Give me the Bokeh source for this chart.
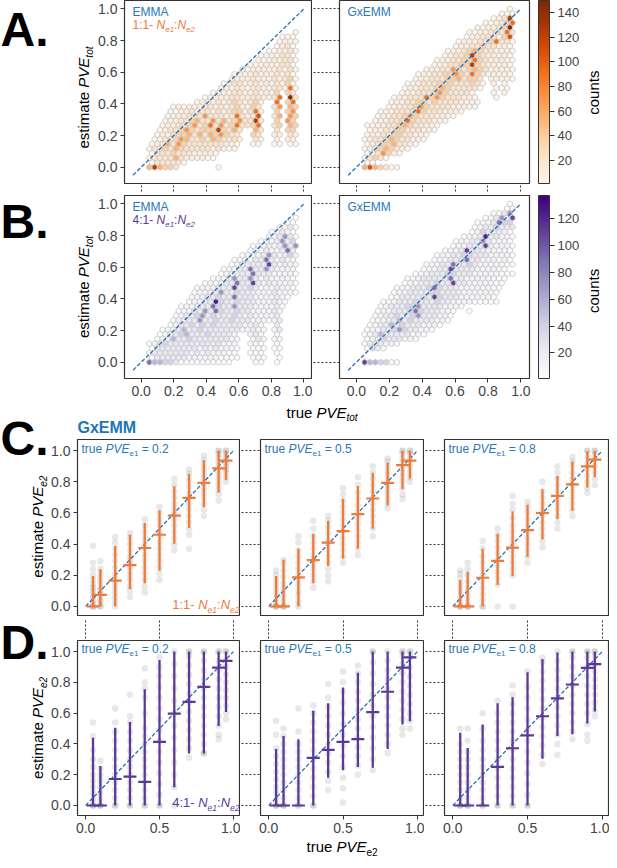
import math
from bokeh.plotting import figure
from bokeh.models import (ColumnDataSource, Label, FixedTicker, ColorBar, LinearColorMapper,
                          Range1d, NumeralTickFormatter, CustomJSTickFormatter, LinearAxis)
from bokeh.layouts import column, row
from bokeh.embed import file_html
from bokeh.resources import INLINE
from bokeh.palettes import Oranges256, Purples256
from bokeh.transform import linear_cmap

# ------------------------------------------------------------------ data
HEX_TICKS = [0.0, 0.2, 0.4, 0.6, 0.8, 1.0]
CD_XTICKS = [0.0, 0.5, 1.0]
CD_YTICKS = [0.0, 0.2, 0.4, 0.6, 0.8, 1.0]
CB_A_TICKS = [20, 40, 60, 80, 100, 120, 140]
CB_B_TICKS = [20, 40, 60, 80, 100, 120]
CB_A_RANGE = [1, 150]
CB_B_RANGE = [1, 137]
DIAG_HEX = [-0.05, 1.0]
DIAG_CD = [0.0, 1.0]

# hexbin lattice (bin centres): x0, column step, row step; odd rows shifted half a step
HEX_X0 = 0.05
HEX_DX = 0.0327
HEX_DY = 0.0294
# count level of each bin
LEVEL_COUNTS = {".": 2, "1": 10, "2": 22, "3": 38, "4": 55, "5": 72,
                "6": 90, "7": 108, "8": 125, "9": 145}

# rows from top (row 34, y=1.0) to bottom (row 0, y=0); "first column|cells"
HEX_A_EMMA = [
    "0|", "0|", "0|", "0|", "0|",
    "27|.",
    "25|...",
    "24|.11.",
    "24|.12.",
    "22|..112.",
    "21|..1122.",
    "20|..11122.",
    "19|..111122.",
    "17|..11111212.",
    "16|.1112111212.",
    "15|.11121112123.",
    "14|.122112111213.",
    "13|.1121122112216.",
    "12|.111221121113 32",
    "10|.11112211221126 92",
    "9|.111212321231  6 36",
    "4|.1.11122121231132  25 43",
    "4|..1121221212331261  3 35",
    "3|.11122252221262127  24 53",
    "3|.112234225242352282  3 53",
    "2|.112235236252362236  23 43",
    "2|.122353233383242  42  2 33",
    "1|.112334242435322  32  11 21",
    "1|.1223542232432221  21  1 11",
    "0|.124253222222211.  ..  .. ..",
    "0|.22324322222121..",
    "0|.22232221111.",
    "0|.2222421111..",
    "0|.22222.",
    "0|484332       .",
]

HEX_A_GXEMM = [
    "27|.",
    "25|...",
    "24|.128",
    "22|..1236",
    "21|..11239",
    "19|..1122262",
    "19|.11222137",
    "17|.111223622.",
    "17|.112232211.",
    "15|.11234322111.",
    "15|.12238321111.",
    "13|.112233632111..",
    "13|.1122338321111.",
    "11|.112253234321111.",
    "10|.1122335326321111.",
    "9|.112223342332 1111.",
    "8|.1122233322232. 1 .",
    "7|.1122234322222.  ...",
    "7|.112223532222.   . .",
    "5|.11222635322211.   .",
    "5|.112233232222111.",
    "4|.11223532222111..",
    "3|.11222363222111.",
    "2|.1122343222111.",
    "2|.112236322211.",
    "0|..11223432211.",
    "1|.11223322211.",
    "0|.1122332211.",
    "0|.1223432211.",
    "0|.12334221.",
    "0|.1234321.",
    "0|.12531.",
    "0|.232.",
    "0|..",
    "0|47432..",
]

HEX_B_EMMA = [
    "0|", "0|", "0|",
    "27|.",
    "26|..",
    "24|.12.",
    "23|.121.",
    "22|.1252.",
    "21|.112523",
    "19|.11212525",
    "19|.11211262",
    "17|.1112521231",
    "16|.11122621211",
    "15|.112222721211",
    "14|.1122622521111",
    "13|.1122262221111.",
    "12|.11252252121111.",
    "10|.1112262272121111.",
    "9|.11122272232111211.",
    "8|.111252232221112111.",
    "8|.11223226222111121.",
    "7|.11228322322211121.",
    "6|.112226322522211112.",
    "5|.1122526322322111121",
    "5|.1223523222321211112",
    "4|.11225223223222111.12",
    "4|.12232323222221121  2",
    "2|.1124223222222211211 12",
    "2|.12234222322221  121  1",
    "1|.124223222222211  121 11",
    "0|.1232222222222111  .1.  .",
    "0|.222222221212111.  ... ..",
    "0|.22222221212111..  ...  .",
    "0|.222222111111....  ...  .",
    "0|644332..........    ..  .",
]

HEX_B_GXEMM = [
    "27|.",
    "26|..",
    "24|.125",
    "22|.12527",
    "21|.112633",
    "20|.1223222",
    "20|.132221.",
    "18|.11282211.",
    "17|.112252111.",
    "16|.1122272111.",
    "15|.11272221111.",
    "13|.1122332221111.",
    "13|.1122262211111.",
    "11|.11226223211111..",
    "11|.11227222211111.",
    "9|.112223322211111...",
    "8|.1122222622111111..",
    "7|.1122232272211111..",
    "6|.11222363222111111..",
    "5|.112222332222111111.",
    "5|.122222273222111111.",
    "3|.1122232223221111.....",
    "3|.12223352222111.",
    "2|.1122236322211.  .",
    "2|.1223223522211.",
    "1|.1122423222211.",
    "1|.122423222111.",
    "0|.11223532211.",
    "0|.1242222211.",
    "0|.12322211.",
    "0|.22211.",
    "0|.32.",
    "0|",
    "0|",
    "0|74433..",
]

# panels C / D: true PVE_e2 values, medians, error-bar ends, individual estimates
CD_X = [0.05, 0.1, 0.2, 0.3, 0.4, 0.5, 0.6, 0.7, 0.8, 0.9, 0.95]

C02_MED = [0.0, 0.074, 0.165, 0.265, 0.375, 0.46, 0.583, 0.697, 0.794, 0.886, 0.936]
C02_LO = [0.0, 0.0, 0.0, 0.112, 0.148, 0.229, 0.403, 0.504, 0.636, 0.733, 0.814]
C02_HI = [0.195, 0.24, 0.388, 0.46, 0.536, 0.618, 0.771, 0.852, 0.941, 1.0, 1.0]
C02_PTS = [
    [0, 0, 0, 0.02, 0.04, 0.06, 0.08, 0.1, 0.12, 0.14, 0.17, 0.2, 0.24, 0.28, 0.39],
    [0, 0, 0.02, 0.04, 0.06, 0.08, 0.1, 0.12, 0.15, 0.18, 0.21, 0.24, 0.29],
    [0, 0.03, 0.06, 0.09, 0.12, 0.15, 0.18, 0.21, 0.25, 0.29, 0.33, 0.37, 0.41, 0.445],
    [0.06, 0.1, 0.13, 0.17, 0.2, 0.23, 0.26, 0.29, 0.32, 0.36, 0.4, 0.44, 0.47],
    [0.09, 0.13, 0.17, 0.21, 0.25, 0.29, 0.33, 0.37, 0.4, 0.44, 0.48, 0.52, 0.56],
    [0.17, 0.21, 0.25, 0.29, 0.33, 0.37, 0.41, 0.45, 0.48, 0.52, 0.56, 0.6, 0.64],
    [0.36, 0.4, 0.44, 0.48, 0.52, 0.56, 0.59, 0.62, 0.66, 0.7, 0.74, 0.78, 0.82],
    [0.37, 0.46, 0.5, 0.54, 0.58, 0.62, 0.66, 0.7, 0.73, 0.77, 0.81, 0.85, 0.88],
    [0.58, 0.62, 0.66, 0.7, 0.73, 0.76, 0.79, 0.82, 0.85, 0.88, 0.91, 0.94, 0.97],
    [0.68, 0.72, 0.75, 0.78, 0.81, 0.84, 0.87, 0.9, 0.93, 0.96, 0.98, 1.0, 1.0],
    [0.8, 0.83, 0.86, 0.88, 0.9, 0.92, 0.94, 0.96, 0.98, 1.0, 1.0],
]

C05_MED = [0.0, 0.0, 0.186, 0.297, 0.409, 0.483, 0.593, 0.693, 0.794, 0.907, 0.936]
C05_LO = [0.0, 0.0, 0.0, 0.148, 0.26, 0.307, 0.371, 0.498, 0.65, 0.752, 0.822]
C05_HI = [0.195, 0.30, 0.37, 0.466, 0.55, 0.689, 0.773, 0.858, 0.924, 1.0, 1.0]
C05_PTS = [
    [0, 0, 0, 0.02, 0.05, 0.08, 0.11, 0.14, 0.17, 0.2, 0.23],
    [0, 0, 0, 0.03, 0.06, 0.09, 0.12, 0.15, 0.19, 0.23, 0.27, 0.3],
    [0, 0.03, 0.07, 0.1, 0.14, 0.17, 0.2, 0.24, 0.28, 0.32, 0.36, 0.41, 0.45],
    [0.12, 0.16, 0.2, 0.24, 0.27, 0.3, 0.33, 0.37, 0.41, 0.45, 0.5, 0.55],
    [0.16, 0.2, 0.24, 0.28, 0.32, 0.36, 0.4, 0.43, 0.47, 0.51, 0.55, 0.58],
    [0.28, 0.32, 0.36, 0.4, 0.44, 0.48, 0.52, 0.56, 0.6, 0.64, 0.68, 0.72, 0.76],
    [0.33, 0.37, 0.41, 0.45, 0.49, 0.53, 0.57, 0.61, 0.65, 0.69, 0.73, 0.78, 0.83],
    [0.45, 0.5, 0.54, 0.58, 0.62, 0.66, 0.7, 0.74, 0.78, 0.82, 0.86, 0.9],
    [0.63, 0.66, 0.69, 0.72, 0.75, 0.78, 0.81, 0.84, 0.87, 0.9, 0.93, 0.95],
    [0.69, 0.72, 0.76, 0.8, 0.83, 0.86, 0.89, 0.92, 0.95, 0.98, 1.0, 1.0],
    [0.8, 0.83, 0.86, 0.89, 0.92, 0.95, 0.98, 1.0, 1.0],
]

C08_MED = [0.0, 0.0, 0.184, 0.292, 0.377, 0.49, 0.6, 0.71, 0.784, 0.9, 0.943]
C08_LO = [0.0, 0.0, 0.0, 0.138, 0.195, 0.318, 0.43, 0.561, 0.614, 0.763, 0.83]
C08_HI = [0.17, 0.222, 0.37, 0.466, 0.61, 0.652, 0.752, 0.837, 0.932, 0.996, 1.0]
C08_PTS = [
    [0, 0, 0, 0.03, 0.06, 0.09, 0.12, 0.15, 0.18, 0.21, 0.23],
    [0, 0, 0, 0.03, 0.06, 0.09, 0.12, 0.16, 0.2, 0.24, 0.28],
    [0, 0, 0.04, 0.08, 0.12, 0.16, 0.2, 0.24, 0.28, 0.32, 0.37, 0.42],
    [0, 0.14, 0.18, 0.22, 0.26, 0.3, 0.34, 0.38, 0.42, 0.46, 0.5],
    [0, 0.2, 0.24, 0.28, 0.32, 0.36, 0.4, 0.44, 0.48, 0.52, 0.57, 0.62, 0.66, 0.71],
    [0.28, 0.32, 0.36, 0.4, 0.44, 0.48, 0.52, 0.56, 0.6, 0.64, 0.67],
    [0.38, 0.42, 0.46, 0.5, 0.54, 0.58, 0.62, 0.66, 0.7, 0.74, 0.8],
    [0.5, 0.54, 0.58, 0.62, 0.66, 0.7, 0.74, 0.78, 0.82, 0.86, 0.9],
    [0.58, 0.62, 0.66, 0.7, 0.74, 0.78, 0.82, 0.86, 0.9, 0.93, 0.96],
    [0.73, 0.76, 0.8, 0.84, 0.88, 0.92, 0.96, 1.0, 1.0],
    [0.78, 0.82, 0.86, 0.9, 0.94, 0.97, 1.0, 1.0],
]

D02_MED = [0.0, 0.0, 0.172, 0.187, 0.153, 0.414, 0.597, 0.673, 0.771, 0.896, 0.94]
D02_LO = [0.0, 0.0, 0.0, 0.0, 0.0, 0.0, 0.119, 0.338, 0.338, 0.516, 0.607]
D02_HI = [0.44, 0.257, 0.505, 0.543, 0.756, 0.945, 1.0, 1.0, 1.0, 1.0, 1.0]
D02_PTS = [
    [0, 0, 0, 0.04, 0.08, 0.12, 0.16, 0.2, 0.25, 0.3, 0.36, 0.45, 0.54],
    [0, 0, 0, 0.04, 0.08, 0.12, 0.16, 0.2, 0.24, 0.29],
    [0, 0, 0.05, 0.1, 0.15, 0.2, 0.25, 0.3, 0.36, 0.42, 0.48, 0.54, 0.63],
    [0, 0, 0.05, 0.1, 0.15, 0.2, 0.25, 0.3, 0.36, 0.42, 0.48, 0.54, 0.58, 0.72],
    [0, 0, 0.05, 0.1, 0.15, 0.2, 0.25, 0.3, 0.35, 0.4, 0.45, 0.5, 0.6, 0.7, 0.76, 0.8, 0.89],
    [0, 0, 0.07, 0.14, 0.21, 0.28, 0.35, 0.42, 0.49, 0.56, 0.63, 0.7, 0.77, 0.84, 0.9, 0.96],
    [0, 0.12, 0.2, 0.28, 0.36, 0.44, 0.52, 0.6, 0.68, 0.76, 0.84, 0.92, 1.0],
    [0.31, 0.37, 0.43, 0.49, 0.55, 0.61, 0.67, 0.73, 0.79, 0.85, 0.91, 0.97, 1.0, 1.0],
    [0.34, 0.34, 0.4, 0.46, 0.52, 0.58, 0.64, 0.7, 0.76, 0.82, 0.88, 0.94, 1.0, 1.0],
    [0.43, 0.46, 0.52, 0.58, 0.64, 0.7, 0.76, 0.82, 0.88, 0.94, 1.0, 1.0],
    [0.56, 0.6, 0.65, 0.7, 0.75, 0.8, 0.85, 0.9, 0.95, 1.0, 1.0],
]

D05_MED = [0.0, 0.0, 0.0, 0.31, 0.361, 0.414, 0.431, 0.607, 0.739, 0.896, 0.962]
D05_LO = [0.0, 0.0, 0.0, 0.0, 0.18, 0.229, 0.25, 0.246, 0.367, 0.527, 0.548]
D05_HI = [0.367, 0.452, 0.43, 0.616, 0.665, 0.767, 0.862, 1.0, 1.0, 1.0, 1.0]
D05_PTS = [
    [0, 0, 0, 0.04, 0.08, 0.12, 0.17, 0.22, 0.27, 0.32, 0.37, 0.46, 0.55],
    [0, 0, 0, 0.05, 0.1, 0.15, 0.2, 0.25, 0.3, 0.35, 0.4, 0.45, 0.5],
    [0, 0, 0.05, 0.1, 0.15, 0.2, 0.25, 0.3, 0.35, 0.4, 0.48, 0.63],
    [0, 0, 0.06, 0.12, 0.18, 0.24, 0.3, 0.36, 0.42, 0.48, 0.54, 0.6, 0.65],
    [0.1, 0.16, 0.22, 0.28, 0.34, 0.4, 0.46, 0.52, 0.58, 0.64, 0.7, 0.79],
    [0.02, 0.11, 0.18, 0.25, 0.32, 0.39, 0.46, 0.53, 0.6, 0.67, 0.74, 0.8, 0.87],
    [0.2, 0.26, 0.32, 0.38, 0.44, 0.5, 0.56, 0.62, 0.68, 0.74, 0.8, 0.86, 0.91],
    [0.23, 0.3, 0.37, 0.44, 0.51, 0.58, 0.65, 0.72, 0.79, 0.86, 0.93, 1.0, 1.0],
    [0.34, 0.4, 0.46, 0.52, 0.58, 0.64, 0.7, 0.76, 0.82, 0.88, 0.94, 1.0],
    [0.46, 0.5, 0.56, 0.62, 0.68, 0.74, 0.8, 0.86, 0.92, 0.97, 1.0, 1.0],
    [0.5, 0.55, 0.6, 0.66, 0.72, 0.78, 0.84, 0.9, 0.96, 1.0, 1.0],
]

D08_MED = [0.0, 0.0, 0.0, 0.251, 0.372, 0.456, 0.58, 0.696, 0.786, 0.894, 0.919]
D08_LO = [0.0, 0.0, 0.0, 0.0, 0.0, 0.0, 0.304, 0.452, 0.463, 0.533, 0.611]
D08_HI = [0.473, 0.374, 0.527, 0.665, 0.703, 0.866, 0.95, 0.994, 1.0, 1.0, 1.0]
D08_PTS = [
    [0, 0, 0, 0.05, 0.1, 0.15, 0.2, 0.25, 0.3, 0.35, 0.4, 0.5],
    [0, 0, 0, 0.05, 0.1, 0.15, 0.2, 0.25, 0.3, 0.35, 0.42, 0.5],
    [0, 0, 0.05, 0.1, 0.15, 0.2, 0.25, 0.3, 0.36, 0.42, 0.5, 0.6],
    [0, 0, 0.06, 0.12, 0.18, 0.24, 0.3, 0.36, 0.42, 0.48, 0.54, 0.6, 0.68],
    [0, 0, 0.06, 0.12, 0.18, 0.24, 0.3, 0.36, 0.42, 0.48, 0.54, 0.6, 0.66, 0.72, 0.78],
    [0, 0, 0.07, 0.14, 0.21, 0.28, 0.35, 0.42, 0.49, 0.56, 0.63, 0.7, 0.77, 0.87],
    [0.27, 0.33, 0.39, 0.45, 0.51, 0.57, 0.63, 0.69, 0.75, 0.81, 0.87, 0.93, 0.96],
    [0.33, 0.4, 0.46, 0.52, 0.58, 0.64, 0.7, 0.76, 0.82, 0.88, 0.94, 1.0],
    [0.43, 0.48, 0.54, 0.6, 0.66, 0.72, 0.78, 0.84, 0.9, 0.96, 1.0, 1.0],
    [0.42, 0.46, 0.53, 0.6, 0.66, 0.72, 0.78, 0.84, 0.9, 0.96, 1.0, 1.0],
    [0.58, 0.62, 0.67, 0.72, 0.77, 0.82, 0.87, 0.92, 0.97, 1.0, 1.0],
]

# ------------------------------------------------------------------ style
FONT = "Liberation Sans"
BLUE = "#2a78b6"
LINE_BLUE = "#2a6fb2"
ORANGE = "#ee7b39"
PURPLE = "#5b3a97"
TICK_COLOR = "#444444"
EDGE = "#333333"
HEX_RANGE = (-0.1025, 1.0525)
CD_XR = (-0.055, 1.048)
CD_YR = (-0.065, 1.072)
BASE_FIX = 0.35   # renderer places the alphabetic baseline this many em lower

CW = {" ": .278, "-": .333, ".": .278, ":": .278, "=": .584,
      "a": .556, "c": .5, "e": .556, "i": .222, "m": .833, "n": .556, "o": .556, "r": .333,
      "s": .5, "t": .278, "u": .556, "x": .5,
      "A": .667, "E": .667, "G": .778, "M": .833, "N": .722, "P": .667, "V": .667}


def tw(s, size):
    return sum(CW.get(ch, 0.556) for ch in s) * size


def rich(p, x, y, pieces, color, angle=0.0, align="left"):
    total = sum(tw(t, s) for t, s, _, _ in pieces)
    off = {"left": 0.0, "right": -total, "center": -total / 2}[align]
    for t, s, style, dy in pieces:
        lead = len(t) - len(t.lstrip(" "))
        off += tw(" " * lead, s)
        core = t.strip(" ")
        up = dy + BASE_FIX * s
        if angle == 0.0:
            lx, ly = x + off, y + up
        else:
            lx, ly = x - up, y + off
        p.add_layout(Label(x=lx, y=ly, x_units="screen", y_units="screen", text=core, angle=angle,
                           text_font=FONT, text_font_size=f"{s}px", text_font_style=style,
                           text_color=color, text_align="left", text_baseline="alphabetic"))
        off += tw(t.lstrip(" "), s)


def light_to_dark(pal):
    def lum(h):
        return int(h[1:3], 16) + int(h[3:5], 16) + int(h[5:7], 16)
    pal = list(pal)
    return pal if lum(pal[0]) > lum(pal[-1]) else pal[::-1]


ORANGE_PAL = light_to_dark(Oranges256)
PURPLE_PAL = light_to_dark(Purples256)


def base_fig(bl, fw, br, bt, fh, bb, xr, yr, x_loc="below", y_loc="left"):
    p = figure(width=bl + fw + br, height=bt + fh + bb, x_range=Range1d(*xr), y_range=Range1d(*yr),
               output_backend="svg", toolbar_location=None, title=None,
               min_border_left=bl, min_border_right=br, min_border_top=bt, min_border_bottom=bb,
               x_axis_location=x_loc, y_axis_location=y_loc)
    p.xgrid.visible = False
    p.ygrid.visible = False
    p.outline_line_color = EDGE
    p.outline_line_width = 1.2
    p.background_fill_color = "white"
    p.border_fill_color = "white"
    return p


def text_fig(w, h):
    p = figure(width=w, height=h, x_range=Range1d(0, 1), y_range=Range1d(0, 1),
               output_backend="svg", toolbar_location=None, title=None, min_border=0,
               x_axis_location=None, y_axis_location=None)
    p.xgrid.visible = False
    p.ygrid.visible = False
    p.outline_line_color = None
    p.background_fill_color = "white"
    p.border_fill_color = "white"
    return p


def style_axis(ax, ticks, length, dotted, labels):
    ax.ticker = FixedTicker(ticks=ticks, minor_ticks=[])
    ax.axis_line_color = None
    ax.major_tick_in = 0
    ax.major_tick_out = length
    ax.minor_tick_in = 0
    ax.minor_tick_out = 0
    ax.major_tick_line_color = EDGE
    ax.major_tick_line_width = 1
    if dotted:
        ax.major_tick_line_dash = "2 2"
    if labels:
        ax.formatter = NumeralTickFormatter(format="0.0")
        ax.major_label_text_font = FONT
        ax.major_label_text_font_size = "14px"
        ax.major_label_text_color = TICK_COLOR
        ax.major_label_standoff = 3
    else:
        ax.formatter = CustomJSTickFormatter(code="return ''")
        ax.major_label_text_font_size = "1px"
        ax.major_label_standoff = 0


def hex_cells(grid):
    xs, ys, cs = [], [], []
    n = len(grid)
    for i, rowtxt in enumerate(grid):
        r = n - 1 - i
        lead, cells = rowtxt.split("|")
        start = int(lead)
        for k, ch in enumerate(cells):
            if ch == " ":
                continue
            c = start + k
            xs.append(HEX_X0 + HEX_DX * (c + 0.5 * (r % 2)))
            ys.append(HEX_DY * r)
            cs.append(LEVEL_COUNTS[ch])
    return ColumnDataSource(dict(x=xs, y=ys, count=cs))


def draw_hex(p, grid, pal, rng):
    p.scatter("x", "y", source=hex_cells(grid), marker="hex", angle=math.pi / 2, size=5.9,
              fill_color=linear_cmap("count", pal, rng[0], rng[1]),
              line_color="#c9c9c9", line_width=0.9)
    p.line(DIAG_HEX, DIAG_HEX, line_color=LINE_BLUE, line_dash="4 2", line_width=1.3)


def add_colorbar(p, pal, rng, ticks, fh):
    mapper = LinearColorMapper(palette=pal, low=rng[0], high=rng[1])
    cb = ColorBar(color_mapper=mapper, width=11, height=fh, padding=0, margin=0, location=(9, 0),
                  ticker=FixedTicker(ticks=ticks, minor_ticks=[]),
                  major_tick_out=5, major_tick_in=0, minor_tick_out=0, minor_tick_in=0,
                  major_tick_line_color=EDGE, label_standoff=3,
                  major_label_text_font=FONT, major_label_text_font_size="13px",
                  major_label_text_color=TICK_COLOR,
                  bar_line_color=EDGE, border_line_color=None, background_fill_color=None)
    p.add_layout(cb, "right")


def draw_cd(p, med, lo, hi, pts, color):
    px, py = [], []
    for x, vals in zip(CD_X, pts):
        px += [x] * len(vals)
        py += vals
    p.scatter(px, py, size=6.5, fill_color="#8a8a8a", fill_alpha=0.2, line_color=None)
    p.line(DIAG_CD, DIAG_CD, line_color=LINE_BLUE, line_dash="4 2", line_width=1.3)
    p.segment(CD_X, lo, CD_X, hi, line_color=color, line_width=2.3)
    p.scatter(CD_X, med, marker="dash", size=13, line_color=color, line_width=2.2)


def big_letter(p, x, y, t):
    p.add_layout(Label(x=x, y=y + BASE_FIX * 48, x_units="screen", y_units="screen", text=t,
                       text_font=FONT, text_font_size="48px", text_font_style="bold",
                       text_color="black", text_align="left", text_baseline="alphabetic"))


def ratio_text(color, size, sub):
    return [("%s-" % ("1:1" if color == ORANGE else "4:1"), size, "normal", 0),
            (" N", size, "italic", 0), ("e1", sub, "italic", -3),
            (":", size, "normal", 0),
            ("N", size, "italic", 0), ("e2", sub, "italic", -3)]


def counts_label(p, x, y):
    p.add_layout(Label(x=x, y=y, x_units="screen", y_units="screen", text="counts",
                       angle=math.pi / 2, text_font=FONT, text_font_size="15px",
                       text_color="black", text_align="center", text_baseline="middle"))


YLAB_TOT = [("estimate", 15, "normal", 0), (" PVE", 15, "italic", 0), ("tot", 10, "italic", -4)]
YLAB_E2 = [("estimate", 15, "normal", 0), (" PVE", 15, "italic", 0), ("e2", 10, "italic", -4)]

# ------------------------------------------------------------------ rows A / B
FH = 183
pA1 = base_fig(28, 189, 0, 0, FH, 12, HEX_RANGE, HEX_RANGE)
style_axis(pA1.xaxis, HEX_TICKS, 8, True, False)
style_axis(pA1.yaxis, HEX_TICKS, 4, False, True)
draw_hex(pA1, HEX_A_EMMA, ORANGE_PAL, CB_A_RANGE)
rich(pA1, 8, FH - 16, [("EMMA", 12, "normal", 0)], BLUE)
rich(pA1, 8, FH - 29, ratio_text(ORANGE, 12, 8), ORANGE)

pA2 = base_fig(27, 190, 54, 0, FH, 12, HEX_RANGE, HEX_RANGE)
style_axis(pA2.xaxis, HEX_TICKS, 8, True, False)
style_axis(pA2.yaxis, HEX_TICKS, 26, True, False)
draw_hex(pA2, HEX_A_GXEMM, ORANGE_PAL, CB_A_RANGE)
rich(pA2, 8, FH - 16, [("GxEMM", 12, "normal", 0)], BLUE)
add_colorbar(pA2, ORANGE_PAL, CB_A_RANGE, CB_A_TICKS, FH)

pB1 = base_fig(28, 189, 0, 0, FH, 23, HEX_RANGE, HEX_RANGE)
style_axis(pB1.xaxis, HEX_TICKS, 4, False, True)
style_axis(pB1.yaxis, HEX_TICKS, 4, False, True)
draw_hex(pB1, HEX_B_EMMA, PURPLE_PAL, CB_B_RANGE)
rich(pB1, 8, FH - 16, [("EMMA", 12, "normal", 0)], BLUE)
rich(pB1, 8, FH - 29, ratio_text(PURPLE, 12, 8), PURPLE)

pB2 = base_fig(27, 190, 54, 0, FH, 23, HEX_RANGE, HEX_RANGE)
style_axis(pB2.xaxis, HEX_TICKS, 4, False, True)
style_axis(pB2.yaxis, HEX_TICKS, 26, True, False)
draw_hex(pB2, HEX_B_GXEMM, PURPLE_PAL, CB_B_RANGE)
rich(pB2, 8, FH - 16, [("GxEMM", 12, "normal", 0)], BLUE)
add_colorbar(pB2, PURPLE_PAL, CB_B_RANGE, CB_B_TICKS, FH)

AB_H = 401
textAB = text_fig(95, AB_H)
big_letter(textAB, 0, 355.4, "A.")
big_letter(textAB, 0, 163.2, "B.")
rich(textAB, 88, 304, YLAB_TOT, "black", angle=math.pi / 2, align="center")
rich(textAB, 88, 114.5, YLAB_TOT, "black", angle=math.pi / 2, align="center")

textR = text_fig(26, AB_H)
counts_label(textR, 10, 308.8)
counts_label(textR, 10, 110.6)

block_ab = row(textAB, column(row(pA1, pA2), row(pB1, pB2)), textR)

# ------------------------------------------------------------------ rows C / D
FH_C = 177
FH_D = 175


def true_e1(p, y, val):
    rich(p, 4, y, [("true", 12, "normal", 0), (" PVE", 12, "italic", 0),
                   ("e1", 8, "normal", -3), (" = %s" % val, 12, "normal", 0)], BLUE)


C_SETS = [(C02_MED, C02_LO, C02_HI, C02_PTS, "0.2"),
          (C05_MED, C05_LO, C05_HI, C05_PTS, "0.5"),
          (C08_MED, C08_LO, C08_HI, C08_PTS, "0.8")]
D_SETS = [(D02_MED, D02_LO, D02_HI, D02_PTS, "0.2"),
          (D05_MED, D05_LO, D05_HI, D05_PTS, "0.5"),
          (D08_MED, D08_LO, D08_HI, D08_PTS, "0.8")]
CD_LEFT = [28, 20, 20]
CD_FW = [164, 164, 165]

c_panels = []
for i, (med, lo, hi, pts, val) in enumerate(C_SETS):
    p = base_fig(CD_LEFT[i], CD_FW[i], 0, 0, FH_C, 0, CD_XR, CD_YR, x_loc=None)
    if i == 0:
        style_axis(p.yaxis, CD_YTICKS, 4, False, True)
    else:
        style_axis(p.yaxis, CD_YTICKS, 19, True, False)
    draw_cd(p, med, lo, hi, pts, ORANGE)
    true_e1(p, FH_C - 14, val)
    c_panels.append(p)
rich(c_panels[0], 162, 7, ratio_text(ORANGE, 13, 8.5), ORANGE, align="right")

d_panels = []
for i, (med, lo, hi, pts, val) in enumerate(D_SETS):
    p = base_fig(CD_LEFT[i], CD_FW[i], 0, 24, FH_D, 23, CD_XR, CD_YR)
    if i == 0:
        style_axis(p.yaxis, CD_YTICKS, 4, False, True)
    else:
        style_axis(p.yaxis, CD_YTICKS, 19, True, False)
    style_axis(p.xaxis, CD_XTICKS, 4, False, True)
    top = LinearAxis()
    style_axis(top, CD_XTICKS, 20, True, False)
    p.add_layout(top, "above")
    draw_cd(p, med, lo, hi, pts, PURPLE)
    true_e1(p, FH_D - 12.5, val)
    d_panels.append(p)
rich(d_panels[0], 162, 8, ratio_text(PURPLE, 13, 8.5), PURPLE, align="right")

strip1 = text_fig(561, 38)
rich(strip1, 238, 21.8, [("true", 15, "normal", 0), (" PVE", 15, "italic", 0),
                         ("tot", 10, "italic", -3.5)], "black")
strip1.add_layout(Label(x=29, y=6 + BASE_FIX * 16, x_units="screen", y_units="screen",
                        text="GxEMM", text_font=FONT, text_font_size="16px",
                        text_font_style="bold", text_color="#2176b5",
                        text_align="left", text_baseline="alphabetic"))

strip2 = text_fig(561, 22)
rich(strip2, 258, 9, [("true", 15, "normal", 0), (" PVE", 15, "italic", 0),
                      ("e2", 10, "normal", -3.5)], "black")

textCD = text_fig(48, 459)
big_letter(textCD, 0, 405, "C.")
big_letter(textCD, 0, 201, "D.")
rich(textCD, 42.4, 333.8, YLAB_E2, "black", angle=math.pi / 2, align="center")
rich(textCD, 42.4, 132.6, YLAB_E2, "black", angle=math.pi / 2, align="center")

block_cd = row(textCD, column(strip1, row(*c_panels), row(*d_panels), strip2))

layout = column(block_ab, block_cd)

open("out.html", "w").write(file_html(layout, INLINE, title="PVE estimates"))
